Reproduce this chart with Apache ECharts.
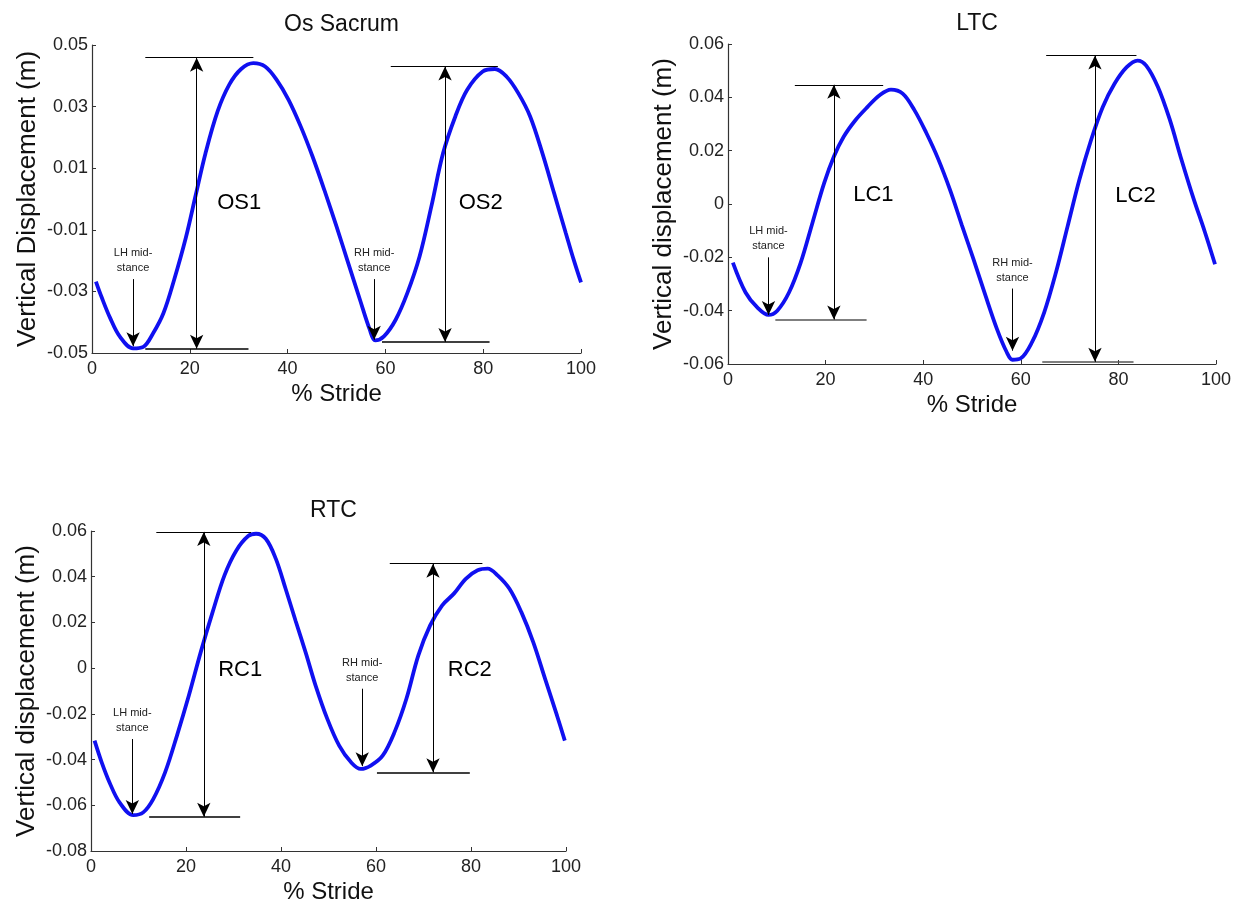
<!DOCTYPE html>
<html>
<head>
    <meta http-equiv="Content-Type" content="text/html; charset=utf-8" />
    <title>Vertical displacement</title>
    <style>
        html, body { margin: 0; padding: 0; background: #fff; }
        #main { width: 1236px; height: 905px; }
    </style>
</head>
<body>
    <div id="main"></div>
    <script src="https://cdn.jsdelivr.net/npm/echarts@6/dist/echarts.min.js"></script>
    <script type="text/javascript">
        // Os Sacrum
        var osStride = [0.8, 2, 3.7, 5.7, 8.4, 10.5, 12.5, 14.6, 16.8, 19.2, 21.2, 23.2, 25.7, 28.1, 30.5, 33, 35.4, 37.8, 40.2, 42.7, 45.1, 47.5, 50, 52.4, 54.8, 56.8, 57.9, 59.7, 62.1, 64.5, 67, 69.4, 71.8, 74.3, 76.7, 79.9, 82.4, 84.8, 87.2, 89.6, 92.1, 94.5, 96.9, 98.5, 100];
        var osDisp = [-0.0268, -0.032, -0.0386, -0.0447, -0.0485, -0.048, -0.0436, -0.0371, -0.0262, -0.0125, 0.0012, 0.0148, 0.0285, 0.0372, 0.0422, 0.0441, 0.043, 0.0386, 0.0322, 0.0235, 0.0138, 0.003, -0.0089, -0.0208, -0.0327, -0.0424, -0.0459, -0.0446, -0.0392, -0.0305, -0.0186, -0.0024, 0.0149, 0.0268, 0.0354, 0.0414, 0.0422, 0.0397, 0.0343, 0.0268, 0.0149, 0.0019, -0.0111, -0.0197, -0.0271];
        // LTC
        var ltcStride = [1.0, 3.6, 6.0, 8.3, 10.1, 12.5, 14.9, 17.3, 19.7, 21.7, 23.7, 26.1, 28.6, 31, 33.4, 35.8, 38.2, 40.6, 43, 45.5, 47.9, 50.3, 52.7, 55.1, 57.1, 58.3, 59.9, 62.3, 64.8, 67.2, 69.6, 72, 74.4, 76.8, 79.2, 81.7, 83.9, 85.7, 88.1, 90.5, 92.9, 95.3, 97.7, 99.8];
        var ltcDisp = [-0.022, -0.0332, -0.0388, -0.0416, -0.040, -0.0332, -0.022, -0.0071, 0.0078, 0.0178, 0.0252, 0.0314, 0.0364, 0.0407, 0.0429, 0.0414, 0.0352, 0.0268, 0.0172, 0.0053, -0.0078, -0.0207, -0.0340, -0.0468, -0.0555, -0.0584, -0.058, -0.0518, -0.0406, -0.0257, -0.0083, 0.0091, 0.024, 0.0364, 0.0451, 0.0513, 0.0538, 0.0519, 0.0439, 0.0318, 0.0168, 0.0026, -0.0104, -0.0226];
        // RTC
        var rtcStride = [0.75, 2.25, 3.9, 6, 8.9, 11, 13.1, 15.6, 18.1, 20.6, 23.1, 25.6, 28.1, 30.6, 33.1, 34.75, 36.8, 38.9, 41, 43.1, 45.2, 47.25, 49.75, 52.25, 54.75, 56.8, 58.9, 61.4, 63.9, 66.4, 68.9, 71.4, 73.9, 76.4, 78.9, 81.4, 83.5, 85.6, 88.1, 90.6, 93.1, 95.6, 98.1, 99.75];
        var rtcDisp = [-0.0317, -0.0412, -0.05, -0.0587, -0.0643, -0.0631, -0.0573, -0.0456, -0.0295, -0.012, 0.007, 0.0245, 0.0406, 0.0515, 0.0578, 0.0588, 0.0566, 0.0479, 0.0345, 0.0205, 0.0068, -0.0074, -0.0222, -0.0339, -0.0412, -0.0441, -0.0426, -0.0383, -0.028, -0.0134, 0.0055, 0.0187, 0.0274, 0.0326, 0.0391, 0.0428, 0.0435, 0.0406, 0.0347, 0.0245, 0.0114, -0.0047, -0.0207, -0.0317];

        // ranges: [name, arrowX, topY, topFrom, topTo, botY, botFrom, botTo, labelX, labelY]
        var osRanges = [
            ['OS1', 21.4, 0.0459, 10.9, 33.0, -0.0486, 10.9, 32.0, 30.1, -0.0013],
            ['OS2', 72.2, 0.0430, 61.1, 83.0, -0.0464, 59.3, 81.3, 79.5, -0.0013]
        ];
        var ltcRanges = [
            ['LC1', 21.7, 0.0447, 13.7, 31.8, -0.0433, 9.7, 28.4, 29.8, 0.0035],
            ['LC2', 75.2, 0.0557, 65.2, 83.7, -0.0592, 64.4, 83.1, 83.5, 0.0029]
        ];
        var rtcRanges = [
            ['RC1', 23.75, 0.0596, 13.75, 33.7, -0.0650, 12.25, 31.4, 31.4, -0.001],
            ['RC2', 72.0, 0.0457, 62.9, 82.4, -0.0456, 60.2, 79.75, 79.75, -0.001]
        ];
        // mid-stance arrows: [text, x, fromY, toY]
        var osMid = [['LH mid-\nstance', 8.4, -0.026, -0.0478], ['RH mid-\nstance', 57.7, -0.026, -0.0457]];
        var ltcMid = [['LH mid-\nstance', 8.3, -0.020, -0.0416], ['RH mid-\nstance', 58.3, -0.0317, -0.055]];
        var rtcMid = [['LH mid-\nstance', 8.7, -0.031, -0.0638], ['RH mid-\nstance', 57.1, -0.009, -0.0429]];

        var FONT = "'Liberation Sans', Arial, sans-serif";

        var panels = [
            {title: 'Os Sacrum', yName: 'Vertical Displacement (m)', x: osStride, y: osDisp, ranges: osRanges, mid: osMid,
             grid: {left: 92, top: 45, width: 489, height: 308}, min: -0.05, max: 0.05, botColor: '#000'},
            {title: 'LTC', yName: 'Vertical displacement (m)', x: ltcStride, y: ltcDisp, ranges: ltcRanges, mid: ltcMid,
             grid: {left: 728, top: 44, width: 488, height: 320}, min: -0.06, max: 0.06, botColor: '#555'},
            {title: 'RTC', yName: 'Vertical displacement (m)', x: rtcStride, y: rtcDisp, ranges: rtcRanges, mid: rtcMid,
             grid: {left: 91, top: 531, width: 475, height: 322}, min: -0.08, max: 0.06, botColor: '#000'}
        ];

        function fmt(v) {
            return String(parseFloat(v.toFixed(3)));
        }

        var option = {
            animation: false,
            backgroundColor: '#fff',
            textStyle: {fontFamily: FONT},
            title: [],
            grid: [],
            xAxis: [],
            yAxis: [],
            series: []
        };

        panels.forEach(function (p, i) {
            option.grid.push(p.grid);
            option.title.push({
                text: p.title,
                left: p.grid.left + p.grid.width / 2,
                top: p.grid.top - 37,
                textAlign: 'center',
                textStyle: {fontSize: 23, fontWeight: 'normal', color: '#111', fontFamily: FONT}
            });
            option.xAxis.push({
                type: 'value', gridIndex: i, min: 0, max: 100, interval: 20,
                name: '% Stride', nameLocation: 'middle', nameGap: 29,
                nameTextStyle: {fontSize: 24, color: '#111', fontFamily: FONT},
                axisLine: {onZero: false, lineStyle: {color: '#333', width: 1.2}},
                axisTick: {inside: true, length: 4, lineStyle: {color: '#333'}},
                axisLabel: {fontSize: 18, color: '#222', margin: 7, fontFamily: FONT},
                splitLine: {show: false}
            });
            option.yAxis.push({
                type: 'value', gridIndex: i, min: p.min, max: p.max, interval: 0.02,
                name: p.yName, nameLocation: 'middle', nameGap: 51,
                nameTextStyle: {fontSize: 26, color: '#111', fontFamily: FONT},
                axisLine: {onZero: false, lineStyle: {color: '#333', width: 1.2}},
                axisTick: {inside: true, length: 4, lineStyle: {color: '#333'}},
                axisLabel: {fontSize: 18, color: '#222', margin: 4, fontFamily: FONT, formatter: fmt},
                splitLine: {show: false}
            });

            var lines = [];
            p.ranges.forEach(function (r) {
                lines.push([{coord: [r[3], r[2]], symbol: 'none'}, {coord: [r[4], r[2]], symbol: 'none'}]);
                lines.push([{coord: [r[6], r[5]], symbol: 'none', lineStyle: {color: p.botColor, width: 1.5}}, {coord: [r[7], r[5]], symbol: 'none'}]);
                lines.push([{coord: [r[1], r[5]], symbol: 'arrow'}, {coord: [r[1], r[2]], symbol: 'arrow'}]);
            });
            p.mid.forEach(function (m) {
                lines.push([{coord: [m[1], m[2]], symbol: 'none'}, {coord: [m[1], m[3]], symbol: 'arrow'}]);
            });

            option.series.push({
                type: 'line', xAxisIndex: i, yAxisIndex: i,
                data: p.x.map(function (v, k) { return [v, p.y[k]]; }),
                smooth: 0.35, showSymbol: false, symbol: 'none',
                lineStyle: {color: '#1010f0', width: 3.8},
                markLine: {
                    silent: true, symbol: 'none', symbolSize: [10, 14],
                    label: {show: false},
                    lineStyle: {color: '#000', width: 1, type: 'solid'},
                    emphasis: {disabled: true},
                    data: lines
                },
                z: 3
            });

            option.series.push({
                type: 'scatter', xAxisIndex: i, yAxisIndex: i,
                symbolSize: 1, itemStyle: {color: '#fff', opacity: 1}, silent: true,
                data: p.ranges.map(function (r) { return {value: [r[8], r[9]], name: r[0]}; }),
                label: {show: true, position: 'inside', formatter: '{b}', fontSize: 22, color: '#000', textBorderWidth: 0, fontFamily: FONT}
            });
            option.series.push({
                type: 'scatter', xAxisIndex: i, yAxisIndex: i,
                symbolSize: 1, itemStyle: {color: '#fff', opacity: 1}, silent: true,
                data: p.mid.map(function (m) { return {value: [m[1], m[2]], name: m[0]}; }),
                label: {show: true, position: 'top', distance: 3, formatter: '{b}', fontSize: 11, lineHeight: 15, color: '#222', textBorderWidth: 0, fontFamily: FONT}
            });
        });

        var myChart = echarts.init(document.getElementById('main'));
        myChart.setOption(option);
    </script>
</body>
</html>
